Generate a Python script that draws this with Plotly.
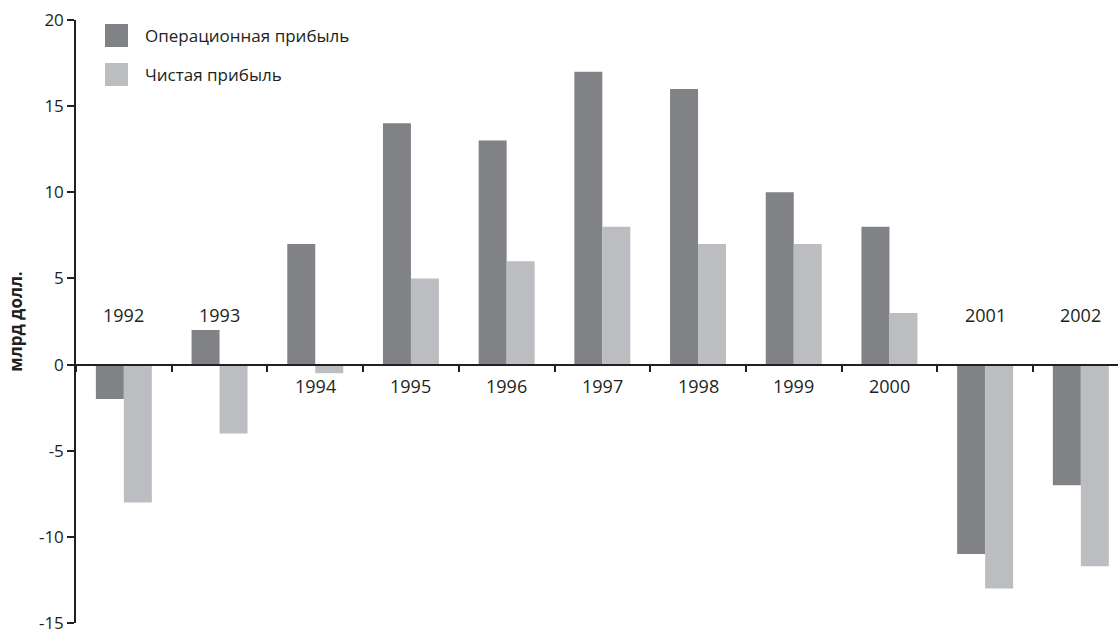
import plotly.graph_objects as go

years = ["1992", "1993", "1994", "1995", "1996", "1997", "1998", "1999", "2000", "2001", "2002"]
operating = [-2, 2, 7, 14, 13, 17, 16, 10, 8, -11, -7]
net = [-8, -4, -0.5, 5, 6, 8, 7, 7, 3, -13, -11.7]
label_above = [True, True, False, False, False, False, False, False, False, True, True]
series_names = ["Операционная прибыль", "Чистая прибыль"]
y_ticks = [20, 15, 10, 5, 0, -5, -10, -15]
y_ticktext = ["20", "15", "10", "5", "0", "-5", "-10", "-15"]

DARK = "#818286"
LIGHT = "#bcbdc1"
AXIS = "#231f20"
FONT = "Open Sans"

fig = go.Figure()
fig.add_trace(go.Bar(x=years, y=operating, name=series_names[0], marker_color=DARK, marker_line_width=0))
fig.add_trace(go.Bar(x=years, y=net, name=series_names[1], marker_color=LIGHT, marker_line_width=0))

W, H = 1118, 633
ml, mt, mb = 76, 20, 10
plot_w = W - ml
plot_h = H - mt - mb
cat_px = 95.7
xmax = -0.5 + plot_w / cat_px

for i, (yr, above) in enumerate(zip(years, label_above)):
    fig.add_annotation(x=i, y=0, xref="x", yref="y", text=yr, showarrow=False,
                       xanchor="center", yanchor="middle",
                       yshift=50 if above else -21,
                       font=dict(family=FONT, size=18, color="#231f20"))

# legend (drawn manually to match the large square swatches)
def px2paper(px, py):
    return (px - ml) / plot_w, (H - mb - py) / plot_h

for i, (name, col) in enumerate(zip(series_names, [DARK, LIGHT])):
    top = 24 + i * 39
    x0, y0 = px2paper(105, top + 23)
    x1, y1 = px2paper(128, top)
    fig.add_shape(type="rect", xref="paper", yref="paper", x0=x0, x1=x1, y0=y0, y1=y1,
                  fillcolor=col, line_width=0)
    tx, ty = px2paper(143, top + 11.5)
    fig.add_annotation(xref="paper", yref="paper", x=tx, y=ty, text=name, showarrow=False,
                       xanchor="left", yanchor="middle",
                       font=dict(family=FONT, size=17, color="#231f20"))

fig.update_layout(
    width=W, height=H,
    margin=dict(l=ml, r=0, t=mt, b=mb, pad=0, autoexpand=False),
    paper_bgcolor="white", plot_bgcolor="white",
    barmode="group", bargap=0.415, bargroupgap=0,
    showlegend=False,
    font=dict(family=FONT, color="#231f20"),
)
fig.update_xaxes(
    type="category", range=[-0.5, xmax],
    anchor="free", position=15 / 35, automargin=False,
    showline=True, linecolor=AXIS, linewidth=1.5,
    ticks="outside", tickson="boundaries", ticklen=7, tickwidth=1.5, tickcolor=AXIS,
    showticklabels=False, showgrid=False, zeroline=False,
)
fig.update_yaxes(
    range=[-15, 20], tickvals=y_ticks, ticktext=y_ticktext, automargin=False,
    showline=True, linecolor=AXIS, linewidth=1.5,
    ticks="outside", ticklen=7, tickwidth=1.5, tickcolor=AXIS,
    tickfont=dict(family=FONT, size=17, color="#231f20"),
    ticklabeloverflow="allow",
    showgrid=False, zeroline=False,
    title=dict(text="<b>млрд долл.</b>", font=dict(family=FONT, size=17, color="#231f20"), standoff=12),
)

fig.write_html("out.html")
